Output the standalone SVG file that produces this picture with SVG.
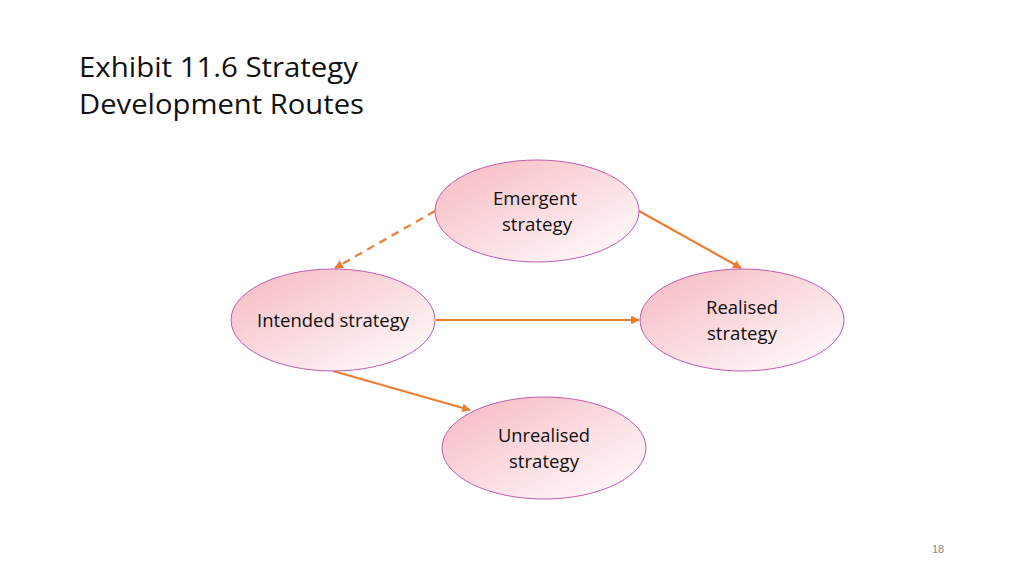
<svg xmlns="http://www.w3.org/2000/svg" width="1024" height="576" viewBox="0 0 1024 576">
<style>
.node{fill:url(#g);stroke:#c05cb0;stroke-width:1}
.lbl{font-family:"Open Sans","Liberation Sans",sans-serif;font-size:18px;fill:#111;text-anchor:middle}
.con{stroke:#ed7d31;stroke-width:2.2;fill:none;marker-end:url(#ah)}
.title{font-family:"Open Sans","Liberation Sans",sans-serif;font-size:28px;fill:#111}
</style>
<defs>
<linearGradient id="g" x1="0" y1="0" x2="1" y2="1">
<stop offset="0" stop-color="#f6b8c0"/>
<stop offset="1" stop-color="#ffffff"/>
</linearGradient>
<marker id="ah" viewBox="0 0 10 10" refX="9" refY="5" markerWidth="4" markerHeight="4" orient="auto" markerUnits="strokeWidth">
<path d="M0,0 L10,5 L0,10 z" fill="#ed7d31"/>
</marker>
</defs>
<rect width="1024" height="576" fill="#fff"/>
<text class="title" x="79" y="77" textLength="279" lengthAdjust="spacingAndGlyphs">Exhibit 11.6 Strategy</text>
<text class="title" x="79" y="114" textLength="285" lengthAdjust="spacingAndGlyphs">Development Routes</text>
<g id="connectors">
<line class="con" x1="435" y1="211" x2="335" y2="268" stroke-dasharray="8,6"/>
<line class="con" x1="639" y1="211" x2="741" y2="268"/>
<line class="con" x1="436" y1="320" x2="639" y2="320"/>
<line class="con" x1="333" y1="371" x2="470" y2="410"/>
</g>
<g id="emergent">
<ellipse class="node" cx="537" cy="211" rx="102" ry="51"/>
<text class="lbl" x="535" y="205" textLength="84" lengthAdjust="spacingAndGlyphs">Emergent</text>
<text class="lbl" x="537" y="231" textLength="70" lengthAdjust="spacingAndGlyphs">strategy</text>
</g>
<g id="intended">
<ellipse class="node" cx="333" cy="320" rx="102" ry="51"/>
<text class="lbl" x="333" y="327" textLength="152" lengthAdjust="spacingAndGlyphs">Intended strategy</text>
</g>
<g id="realised">
<ellipse class="node" cx="742" cy="320" rx="102" ry="51"/>
<text class="lbl" x="742" y="314" textLength="72" lengthAdjust="spacingAndGlyphs">Realised</text>
<text class="lbl" x="742" y="340" textLength="70" lengthAdjust="spacingAndGlyphs">strategy</text>
</g>
<g id="unrealised">
<ellipse class="node" cx="544" cy="448" rx="102" ry="51"/>
<text class="lbl" x="544" y="442" textLength="92" lengthAdjust="spacingAndGlyphs">Unrealised</text>
<text class="lbl" x="544" y="468" textLength="70" lengthAdjust="spacingAndGlyphs">strategy</text>
</g>
<text x="938" y="553" font-family="'Liberation Sans',sans-serif" font-size="11" fill="#888" text-anchor="middle">18</text>
</svg>
